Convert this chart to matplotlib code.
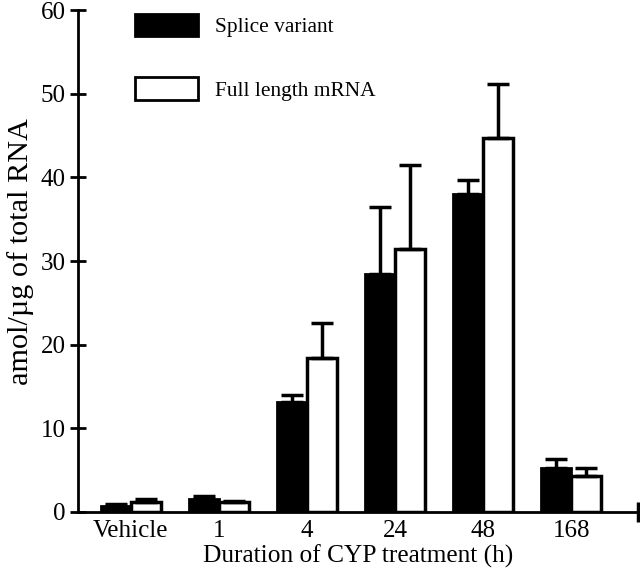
import matplotlib
matplotlib.use("Agg")
import matplotlib.pyplot as plt
import numpy as np
from matplotlib.patches import Patch

categories = ["Vehicle", "1", "4", "24", "48", "168"]
splice = [0.7, 1.6, 13.2, 28.5, 38.0, 5.2]
splice_err = [0.2, 0.3, 0.8, 8.0, 1.7, 1.1]
full = [1.2, 1.2, 18.4, 31.4, 44.7, 4.3]
full_err = [0.4, 0.1, 4.2, 10.1, 6.4, 1.0]
yticks = [0, 10, 20, 30, 40, 50, 60]

plt.rcParams['font.family'] = ['Liberation Serif', 'DejaVu Serif']
fig = plt.figure(figsize=(6.4, 5.73), dpi=100)
ax = fig.add_axes([0.122, 0.1065, 0.875, 0.876])

x = np.arange(len(categories))
w = 0.34
ax.bar(x - w/2, splice, w, color='black', edgecolor='black', linewidth=2)
ax.bar(x + w/2, full, w, color='white', edgecolor='black', linewidth=2.5)
ax.errorbar(x - w/2, splice, yerr=[np.zeros(len(splice)), splice_err], fmt='none',
            ecolor='black', elinewidth=2.5, capsize=8, capthick=2.5)
ax.errorbar(x + w/2, full, yerr=[np.zeros(len(full)), full_err], fmt='none',
            ecolor='black', elinewidth=2.5, capsize=8, capthick=2.5)

ax.set_xlim(-0.6, 5.76)
ax.set_ylim(0, 60)
ax.set_yticks(yticks)
ax.set_xticks(x)
ax.set_xticklabels(categories)
ax.tick_params(axis='x', length=0, labelsize=18, pad=6)
ax.tick_params(axis='y', direction='inout', length=12, width=2, labelsize=18, pad=3)
for s in ['top', 'right']:
    ax.spines[s].set_visible(False)
ax.spines['left'].set_linewidth(2)
ax.spines['bottom'].set_linewidth(2)
# end tick on x-axis
ax.plot([1], [0], marker='|', markersize=14, markeredgewidth=2.5, color='black',
        transform=ax.transAxes, clip_on=False)

ax.set_ylabel("amol/\u00b5g of total RNA", fontsize=21.8)
ax.yaxis.set_label_coords(-0.078, 0.518)
ax.set_xlabel("Duration of CYP treatment (h)", fontsize=18.3, labelpad=2)

handles = [Patch(facecolor='black', edgecolor='black', linewidth=2),
           Patch(facecolor='white', edgecolor='black', linewidth=2)]
ax.legend(handles, ["Splice variant", "Full length mRNA"], loc='upper left',
          bbox_to_anchor=(0.067, 1.031), frameon=False, fontsize=15.4,
          handlelength=2.95, handleheight=1.26, labelspacing=1.87, handletextpad=0.8)

fig.savefig("out.png", dpi=100)
